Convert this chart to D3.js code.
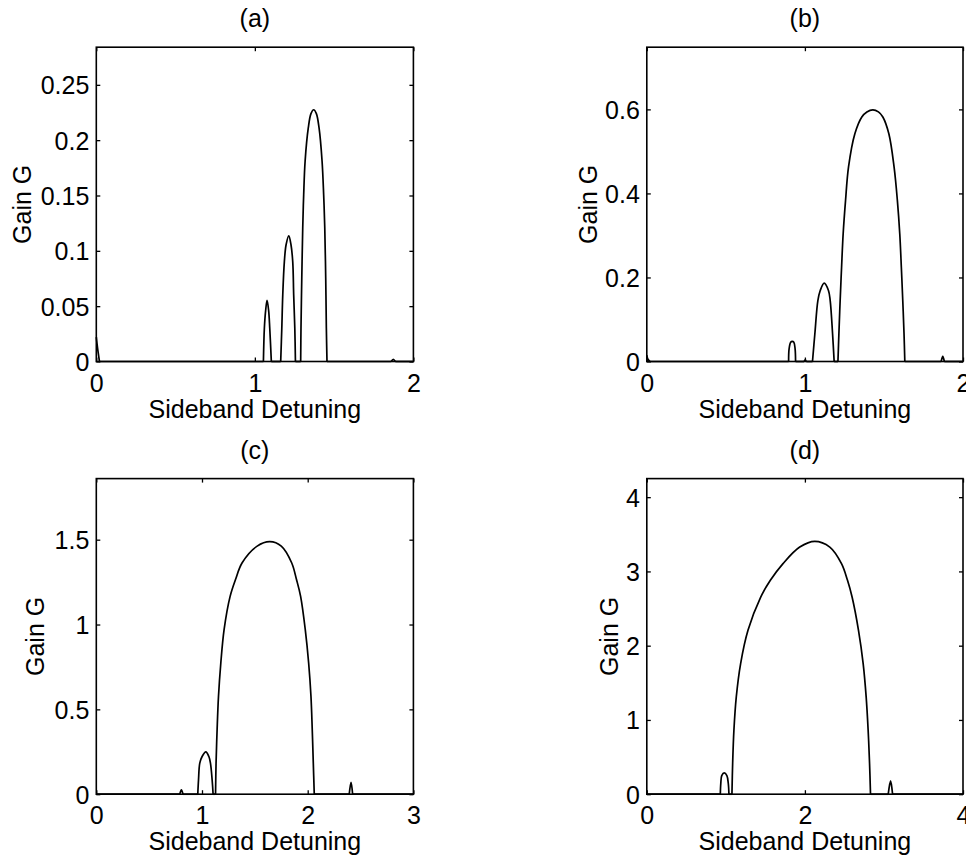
<!DOCTYPE html>
<html>
<head>
<meta charset="utf-8">
<script src="https://cdn.jsdelivr.net/npm/d3@7"></script>
<style>
html,body{margin:0;padding:0;background:#fff;}
svg{display:block;}
text{font-family:"Liberation Sans",Arial,Helvetica,sans-serif;fill:#000;}
</style>
</head>
<body>
<svg id="chart" width="966" height="861"></svg>
<script>
// ---------- data ----------
const titles = ["(a)", "(b)", "(c)", "(d)"];
const xLabel = "Sideband Detuning";
const yLabel = "Gain G";

// panel (a)
const xA = [0, 0.008, 0.02, 1.054, 1.060, 1.068, 1.077, 1.087, 1.094, 1.104,
  1.163, 1.170, 1.176, 1.186, 1.197, 1.214, 1.228, 1.239, 1.245, 1.252, 1.256,
  1.289, 1.291, 1.296, 1.302, 1.308, 1.317, 1.337, 1.354, 1.371, 1.388, 1.405, 1.424, 1.434, 1.441, 1.447, 1.451, 1.455,
  1.86, 1.873, 1.886, 2.0];
const gA = [0.022, 0.012, 0, 0, 0.030, 0.046, 0.0552, 0.046, 0.030, 0,
  0, 0.030, 0.060, 0.090, 0.1055, 0.1136, 0.1055, 0.090, 0.060, 0.030, 0,
  0, 0.030, 0.0754, 0.1206, 0.1507, 0.181, 0.211, 0.224, 0.2275, 0.224, 0.211, 0.181, 0.1507, 0.1206, 0.0754, 0.030, 0,
  0, 0.002, 0, 0];
const xTicksA = [0, 1, 2];
const xTickLabelsA = ["0", "1", "2"];
const yTicksA = [0, 0.05, 0.1, 0.15, 0.2, 0.25];
const yTickLabelsA = ["0", "0.05", "0.1", "0.15", "0.2", "0.25"];

// panel (b)
const xB = [0, 0.006, 0.02, 0.897, 0.900, 0.910, 0.920, 0.930, 0.938, 0.941, 0.995, 1.002, 1.009,
  1.048, 1.063, 1.082, 1.097, 1.122, 1.149, 1.160, 1.175, 1.185,
  1.209, 1.215, 1.223, 1.232, 1.242, 1.257, 1.276, 1.316, 1.360, 1.392, 1.430, 1.465, 1.493, 1.531, 1.564, 1.585, 1.600, 1.610, 1.619, 1.627, 1.632,
  1.862, 1.872, 1.882, 2.0];
const gB = [0.015, 0.006, 0, 0, 0.030, 0.046, 0.048, 0.046, 0.030, 0, 0, 0.004, 0,
  0, 0.066, 0.145, 0.169, 0.1865, 0.169, 0.145, 0.066, 0,
  0, 0.066, 0.145, 0.2245, 0.304, 0.383, 0.463, 0.542, 0.582, 0.594, 0.599, 0.594, 0.582, 0.542, 0.463, 0.383, 0.304, 0.2245, 0.145, 0.066, 0,
  0, 0.012, 0, 0];
const xTicksB = [0, 1, 2];
const xTickLabelsB = ["0", "1", "2"];
const yTicksB = [0, 0.2, 0.4, 0.6];
const yTickLabelsB = ["0", "0.2", "0.4", "0.6"];

// panel (c)
const xC = [0, 0.79, 0.805, 0.82, 0.960, 0.967, 0.979, 1.001, 1.036, 1.065, 1.080, 1.096, 1.105,
  1.128, 1.133, 1.143, 1.156, 1.178, 1.209, 1.266, 1.317, 1.380, 1.522, 1.642, 1.750, 1.848, 1.894, 1.933, 1.977, 2.009, 2.031, 2.043, 2.053, 2.062,
  2.393, 2.41, 2.425, 3.0];
const gC = [0, 0, 0.025, 0, 0, 0.084, 0.183, 0.222, 0.250, 0.222, 0.183, 0.084, 0,
  0, 0.183, 0.380, 0.576, 0.773, 0.970, 1.166, 1.265, 1.364, 1.462, 1.488, 1.462, 1.364, 1.265, 1.166, 0.970, 0.773, 0.576, 0.380, 0.183, 0,
  0, 0.07, 0, 0];
const xTicksC = [0, 1, 2, 3];
const xTickLabelsC = ["0", "1", "2", "3"];
const yTicksC = [0, 0.5, 1, 1.5];
const yTickLabelsC = ["0", "0.5", "1", "1.5"];

// panel (d)
const xD = [0, 0.930, 0.936, 0.948, 0.980, 1.013, 1.031, 1.039,
  1.077, 1.086, 1.102, 1.132, 1.187, 1.280, 1.441, 1.563, 1.723, 1.935, 2.125, 2.315, 2.463, 2.539, 2.597, 2.678, 2.737, 2.775, 2.800, 2.818, 2.830,
  3.054, 3.084, 3.109, 4.0];
const gD = [0, 0, 0.144, 0.25, 0.287, 0.25, 0.144, 0,
  0, 0.413, 0.861, 1.310, 1.759, 2.207, 2.655, 2.880, 3.105, 3.328, 3.405, 3.328, 3.105, 2.880, 2.655, 2.207, 1.759, 1.310, 0.861, 0.413, 0,
  0, 0.179, 0, 0];
const xTicksD = [0, 2, 4];
const xTickLabelsD = ["0", "2", "4"];
const yTicksD = [0, 1, 2, 3, 4];
const yTickLabelsD = ["0", "1", "2", "3", "4"];

const xMaxes = [2, 2, 3, 4];
const yMaxes = [0.284, 0.748, 1.86, 4.25];

// ---------- layout ----------
const colLeft = [96.3, 646.8], colRight = [413.4, 963];
const rowTop = [47.2, 478.6], rowBottom = [361.5, 794.2];
const yLabelGap = [65, 50, 52, 29];
const FS = 25;

const panels = [
  {x: xA, g: gA, xt: xTicksA, xtl: xTickLabelsA, yt: yTicksA, ytl: yTickLabelsA},
  {x: xB, g: gB, xt: xTicksB, xtl: xTickLabelsB, yt: yTicksB, ytl: yTickLabelsB},
  {x: xC, g: gC, xt: xTicksC, xtl: xTickLabelsC, yt: yTicksC, ytl: yTickLabelsC},
  {x: xD, g: gD, xt: xTicksD, xtl: xTickLabelsD, yt: yTicksD, ytl: yTickLabelsD}
];

// split a series into flat (zero) runs and lobes (runs with positive gain, bounded by zeros)
function splitRuns(pts) {
  const lobes = [], flats = [];
  let cur = null;
  for (let k = 0; k < pts.length; k++) {
    const p = pts[k];
    if (p[1] > 0) {
      if (!cur) { cur = []; if (k > 0) cur.push(pts[k - 1]); }
      cur.push(p);
    } else {
      if (cur) { cur.push(p); lobes.push(cur); cur = null; }
      if (k > 0 && pts[k - 1][1] === 0) flats.push([pts[k - 1], p]);
    }
  }
  if (cur) lobes.push(cur);
  return {lobes, flats};
}

const svg = d3.select("#chart");

panels.forEach((p, i) => {
  const c = i % 2, r = Math.floor(i / 2);
  const L = colLeft[c], R = colRight[c], T = rowTop[r], B = rowBottom[r];
  const xs = d3.scaleLinear().domain([0, xMaxes[i]]).range([L, R]);
  const ys = d3.scaleLinear().domain([0, yMaxes[i]]).range([B, T]);
  const g = svg.append("g");

  // curve
  const pts = p.x.map((v, k) => [v, p.g[k]]);
  const runs = splitRuns(pts);
  const lobeLine = d3.line().x(d => xs(d[0])).y(d => ys(d[1])).curve(d3.curveCatmullRom.alpha(0.5));
  const flatLine = d3.line().x(d => xs(d[0])).y(d => ys(d[1]));
  const cg = g.append("g").attr("fill", "none").attr("stroke", "#000")
    .attr("stroke-width", 1.7).attr("stroke-linejoin", "round");
  cg.selectAll("path.lobe").data(runs.lobes).join("path").attr("class", "lobe").attr("d", lobeLine);
  cg.selectAll("path.flat").data(runs.flats).join("path").attr("class", "flat").attr("d", flatLine);

  const fmtX = (d) => p.xtl[p.xt.indexOf(d)];
  const fmtY = (d) => p.ytl[p.yt.indexOf(d)];

  // axes (ticks inward on all sides)
  const axB = g.append("g").attr("transform", `translate(0,${B})`)
    .call(d3.axisBottom(xs).tickValues(p.xt).tickFormat(fmtX).tickSize(-4).tickPadding(9));
  const axL = g.append("g").attr("transform", `translate(${L},0)`)
    .call(d3.axisLeft(ys).tickValues(p.yt).tickFormat(fmtY).tickSize(-4).tickPadding(7));
  const axT = g.append("g").attr("transform", `translate(0,${T})`)
    .call(d3.axisTop(xs).tickValues(p.xt).tickFormat("").tickSize(-4));
  const axR = g.append("g").attr("transform", `translate(${R},0)`)
    .call(d3.axisRight(ys).tickValues(p.yt).tickFormat("").tickSize(-4));
  [axB, axL, axT, axR].forEach(a => {
    a.select(".domain").remove();
    a.selectAll(".tick line").attr("stroke", "#000").attr("stroke-width", 1.3);
    a.selectAll("text").attr("font-size", FS)
      .attr("font-family", '"Liberation Sans",Arial,Helvetica,sans-serif').attr("fill", "#000");
  });
  axB.selectAll(".tick text").attr("dy", null).attr("y", null)
    .attr("transform", "translate(0,30)");
  axL.selectAll(".tick text").attr("dy", "0.36em");

  // box
  g.append("rect").attr("x", L).attr("y", T).attr("width", R - L).attr("height", B - T)
    .attr("fill", "none").attr("stroke", "#000").attr("stroke-width", 1.6);

  // title
  g.append("text").attr("x", (L + R) / 2).attr("y", T - 20)
    .attr("text-anchor", "middle").attr("font-size", FS).text(titles[i]);
  // x label
  g.append("text").attr("x", (L + R) / 2).attr("y", B + 56)
    .attr("text-anchor", "middle").attr("font-size", FS).text(xLabel);
  // y label
  g.append("text").attr("transform", `translate(${L - yLabelGap[i]},${(T + B) / 2}) rotate(-90)`)
    .attr("text-anchor", "middle").attr("font-size", FS).text(yLabel);
});
</script>
</body>
</html>
